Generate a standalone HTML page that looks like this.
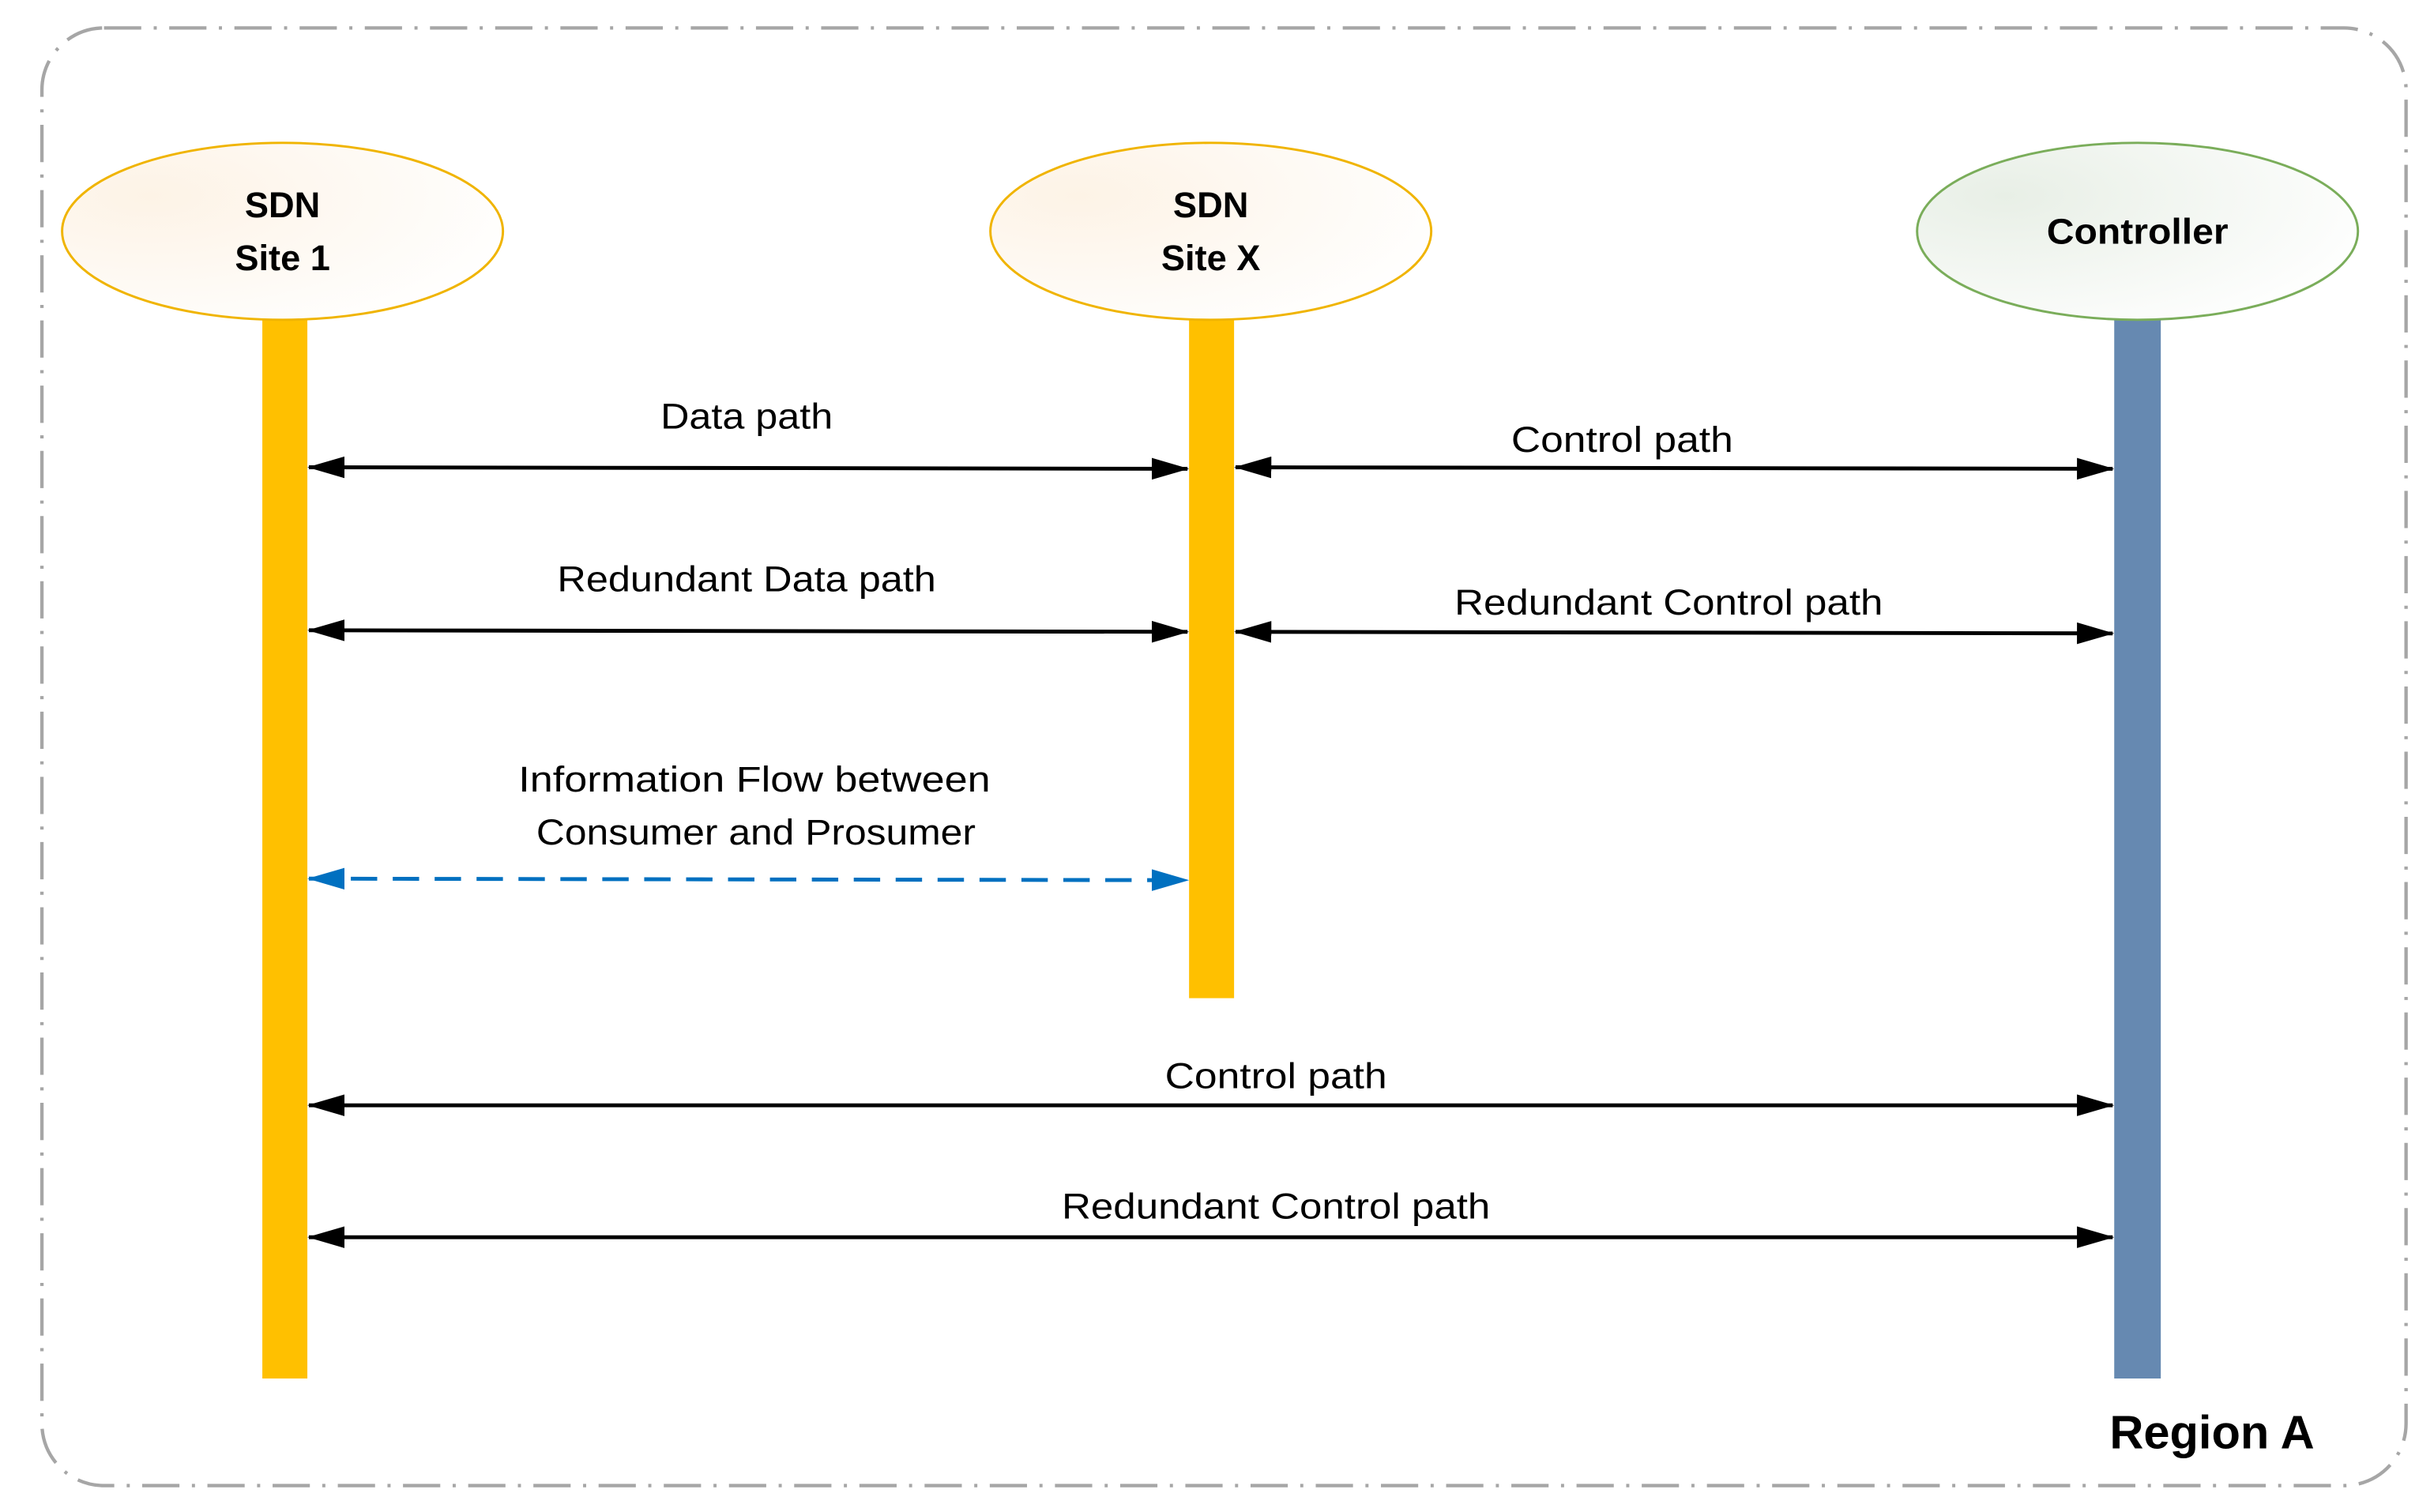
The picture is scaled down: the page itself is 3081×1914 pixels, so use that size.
<!DOCTYPE html>
<html><head><meta charset="utf-8"><style>html,body{margin:0;padding:0;background:#fff}svg{display:block}</style></head>
<body>
<svg width="3081" height="1914" viewBox="0 0 1568 974" preserveAspectRatio="none" xmlns="http://www.w3.org/2000/svg" font-family="Liberation Sans, sans-serif">
<defs>
<radialGradient id="gy" cx="0.2" cy="0.3" r="0.9"><stop offset="0" stop-color="#fdf3e6"/><stop offset="1" stop-color="#ffffff"/></radialGradient>
<radialGradient id="gg" cx="0.2" cy="0.3" r="0.9"><stop offset="0" stop-color="#e8efe6"/><stop offset="1" stop-color="#ffffff"/></radialGradient>
<marker id="ab" markerWidth="24" markerHeight="14" refX="23" refY="7" orient="auto-start-reverse" markerUnits="userSpaceOnUse"><path d="M0,0 L24,7 L0,14 z" fill="#000"/></marker>
<marker id="abl" markerWidth="24" markerHeight="14" refX="23" refY="7" orient="auto-start-reverse" markerUnits="userSpaceOnUse"><path d="M0,0 L24,7 L0,14 z" fill="#0070c0"/></marker>
</defs>
<rect x="27" y="18" width="1523" height="939" rx="40" fill="none" stroke="#a6a6a6" stroke-width="2.2" stroke-dasharray="24,8,2,8"/>
<rect x="169" y="204" width="29" height="684" fill="#ffc000"/>
<rect x="766" y="204" width="29" height="439" fill="#ffc000"/>
<rect x="1362" y="204" width="30" height="684" fill="#6689b1"/>
<ellipse cx="182" cy="149" rx="142" ry="57" fill="url(#gy)" stroke="#f0b400" stroke-width="1.5"/>
<ellipse cx="780" cy="149" rx="142" ry="57" fill="url(#gy)" stroke="#f0b400" stroke-width="1.5"/>
<ellipse cx="1377" cy="149" rx="142" ry="57" fill="url(#gg)" stroke="#7aad5a" stroke-width="1.5"/>
<g font-weight="bold" font-size="23" text-anchor="middle">
<text x="182" y="140">SDN</text><text x="182" y="174">Site 1</text>
<text x="780" y="140">SDN</text><text x="780" y="174">Site X</text>
<text x="1377" y="157" textLength="117" lengthAdjust="spacingAndGlyphs">Controller</text>
</g>
<g stroke="#000" stroke-width="2.5" marker-start="url(#ab)" marker-end="url(#ab)">
<line x1="199" y1="301" x2="765" y2="302"/>
<line x1="796" y1="301" x2="1361" y2="302"/>
<line x1="199" y1="406" x2="765" y2="407"/>
<line x1="796" y1="407" x2="1361" y2="408"/>
<line x1="199" y1="712" x2="1361" y2="712"/>
<line x1="199" y1="797" x2="1361" y2="797"/>
</g>
<line x1="199" y1="566" x2="765" y2="567" stroke="#0070c0" stroke-width="2.5" stroke-dasharray="17,10" marker-start="url(#abl)" marker-end="url(#abl)"/>
<g font-size="23" text-anchor="middle" fill="#000">
<text x="481" y="276" textLength="111" lengthAdjust="spacingAndGlyphs">Data path</text>
<text x="1045" y="291" textLength="143" lengthAdjust="spacingAndGlyphs">Control path</text>
<text x="481" y="381" textLength="244" lengthAdjust="spacingAndGlyphs">Redundant Data path</text>
<text x="1075" y="396" textLength="276" lengthAdjust="spacingAndGlyphs">Redundant Control path</text>
<text x="486" y="510" textLength="304" lengthAdjust="spacingAndGlyphs">Information Flow between</text>
<text x="487" y="544" textLength="283" lengthAdjust="spacingAndGlyphs">Consumer and Prosumer</text>
<text x="822" y="701" textLength="143" lengthAdjust="spacingAndGlyphs">Control path</text>
<text x="822" y="785" textLength="276" lengthAdjust="spacingAndGlyphs">Redundant Control path</text>
</g>
<text x="1425" y="933" font-size="30" font-weight="bold" text-anchor="middle" textLength="132" lengthAdjust="spacingAndGlyphs">Region A</text>
</svg>
</body></html>
